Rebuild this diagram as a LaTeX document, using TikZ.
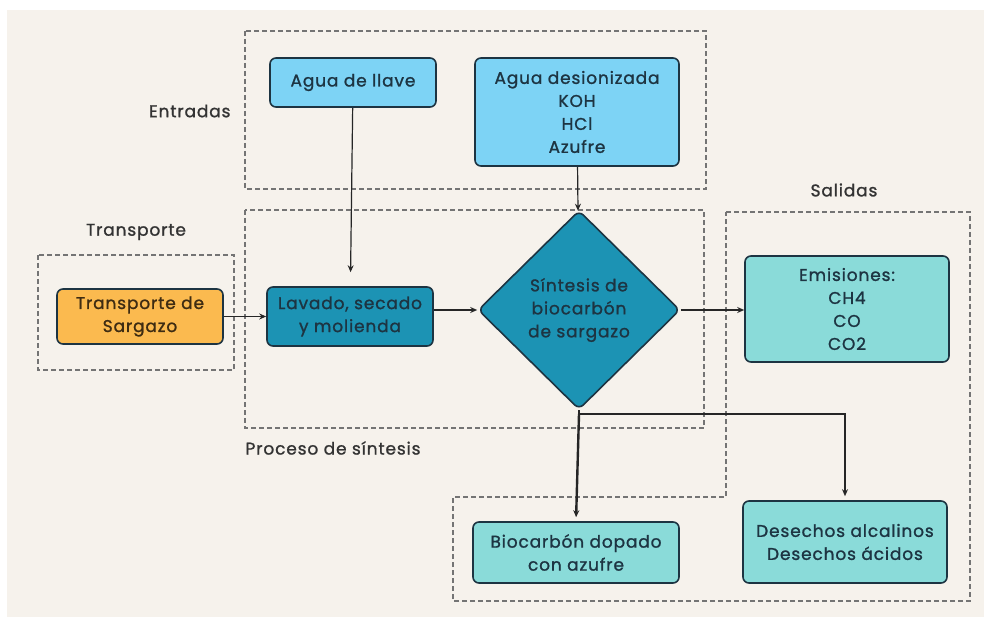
\documentclass[tikz,border=0pt]{standalone}
\usepackage{fontspec}
\setmainfont{Poppins}[LetterSpace=5,FakeBold=1.2]
\usetikzlibrary{shapes.geometric,arrows.meta}

\definecolor{fondo}{HTML}{F6F2EC}
\definecolor{celeste}{HTML}{7DD3F5}
\definecolor{azulproc}{HTML}{1C93B4}
\definecolor{naranja}{HTML}{FBBA4F}
\definecolor{turquesa}{HTML}{8ADBD9}
\definecolor{tinta}{HTML}{1D3442}
\definecolor{marron}{HTML}{3E2C12}
\definecolor{gris}{HTML}{747474}

\begin{document}
\begin{tikzpicture}[x=1pt,y=-1pt,
	caja/.style={draw=tinta, line width=1.6pt, rounded corners=6pt, align=center, text=tinta, inner sep=0pt, font=\fontsize{17}{23}\selectfont},
	zona/.style={draw=gris, line width=1.2pt, dash pattern=on 5pt off 3pt},
	rotulo/.style={text=black!80, font=\fontsize{17}{23}\selectfont},
	flecha/.style={-{Stealth[length=7pt,width=6pt]}, line width=1.2pt, draw=black!85}]
\useasboundingbox (0,0) rectangle (984,617);
\fill [fondo] (7,10) rectangle (984,617);
\draw [zona] (245,31) rectangle (706,189);
\draw [zona] (245,210) rectangle (704,428);
\draw [zona] (38,255) rectangle (234,370);
\draw [zona] (726,212) -- (970,212) -- (970,601) -- (453,601) -- (453,497) -- (726,497) -- cycle;
\node [rotulo, anchor=east] (entradas) at (234,111) {Entradas};
\node [rotulo] (transporte) at (136,232) {Transporte};
\node [rotulo] (salidas) at (844,190) {Salidas};
\node [rotulo, anchor=west] (proceso) at (242,448) {Proceso de síntesis};
\node [caja, fill=celeste, minimum width=166pt, minimum height=49pt] (llave) at (353,82.5) {Agua de llave};
\node [caja, fill=celeste, minimum width=204pt, minimum height=108pt] (reactivos) at (577,112) {Agua desionizada\\KOH\\HCl\\Azufre};
\node [caja, fill=naranja, text=marron, minimum width=166pt, minimum height=55pt] (sargazo) at (140,316.5) {Transporte de\\Sargazo};
\node [caja, fill=azulproc, minimum width=166pt, minimum height=59pt] (lavado) at (350,316.5) {Lavado, secado\\y molienda};
\node [caja, diamond, fill=azulproc, minimum width=202pt, minimum height=199pt, inner sep=0pt] (sintesis) at (579,310) {Síntesis de\\biocarbón\\de sargazo};
\node [caja, fill=turquesa, minimum width=204pt, minimum height=106pt] (emisiones) at (847,309) {Emisiones:\\CH4\\CO\\CO2};
\node [caja, fill=turquesa, minimum width=206pt, minimum height=61pt] (dopado) at (576,552.5) {Biocarbón dopado\\con azufre};
\node [caja, fill=turquesa, minimum width=204pt, minimum height=82pt] (desechos) at (845,542) {Desechos alcalinos\\Desechos ácidos};
\draw [flecha, shorten >=14pt] (llave) -- (lavado);
\draw [flecha] (reactivos) -- (sintesis);
\draw [flecha] (sargazo) -- (lavado);
\draw [flecha] (lavado.east |- sintesis.west) -- (sintesis.west);
\draw [flecha] (sintesis.east) -- (emisiones.west |- sintesis.east);
\coordinate (reparto) at (579,414);
\draw [line width=2.4pt, draw=black!85] (sintesis.south) -- (reparto);
\draw [flecha, line width=2.4pt, shorten >=4pt] (reparto) -| (desechos.north);
\draw [flecha, line width=2.4pt, shorten >=4pt] (reparto) -- (dopado.north);
\end{tikzpicture}
\end{document}
